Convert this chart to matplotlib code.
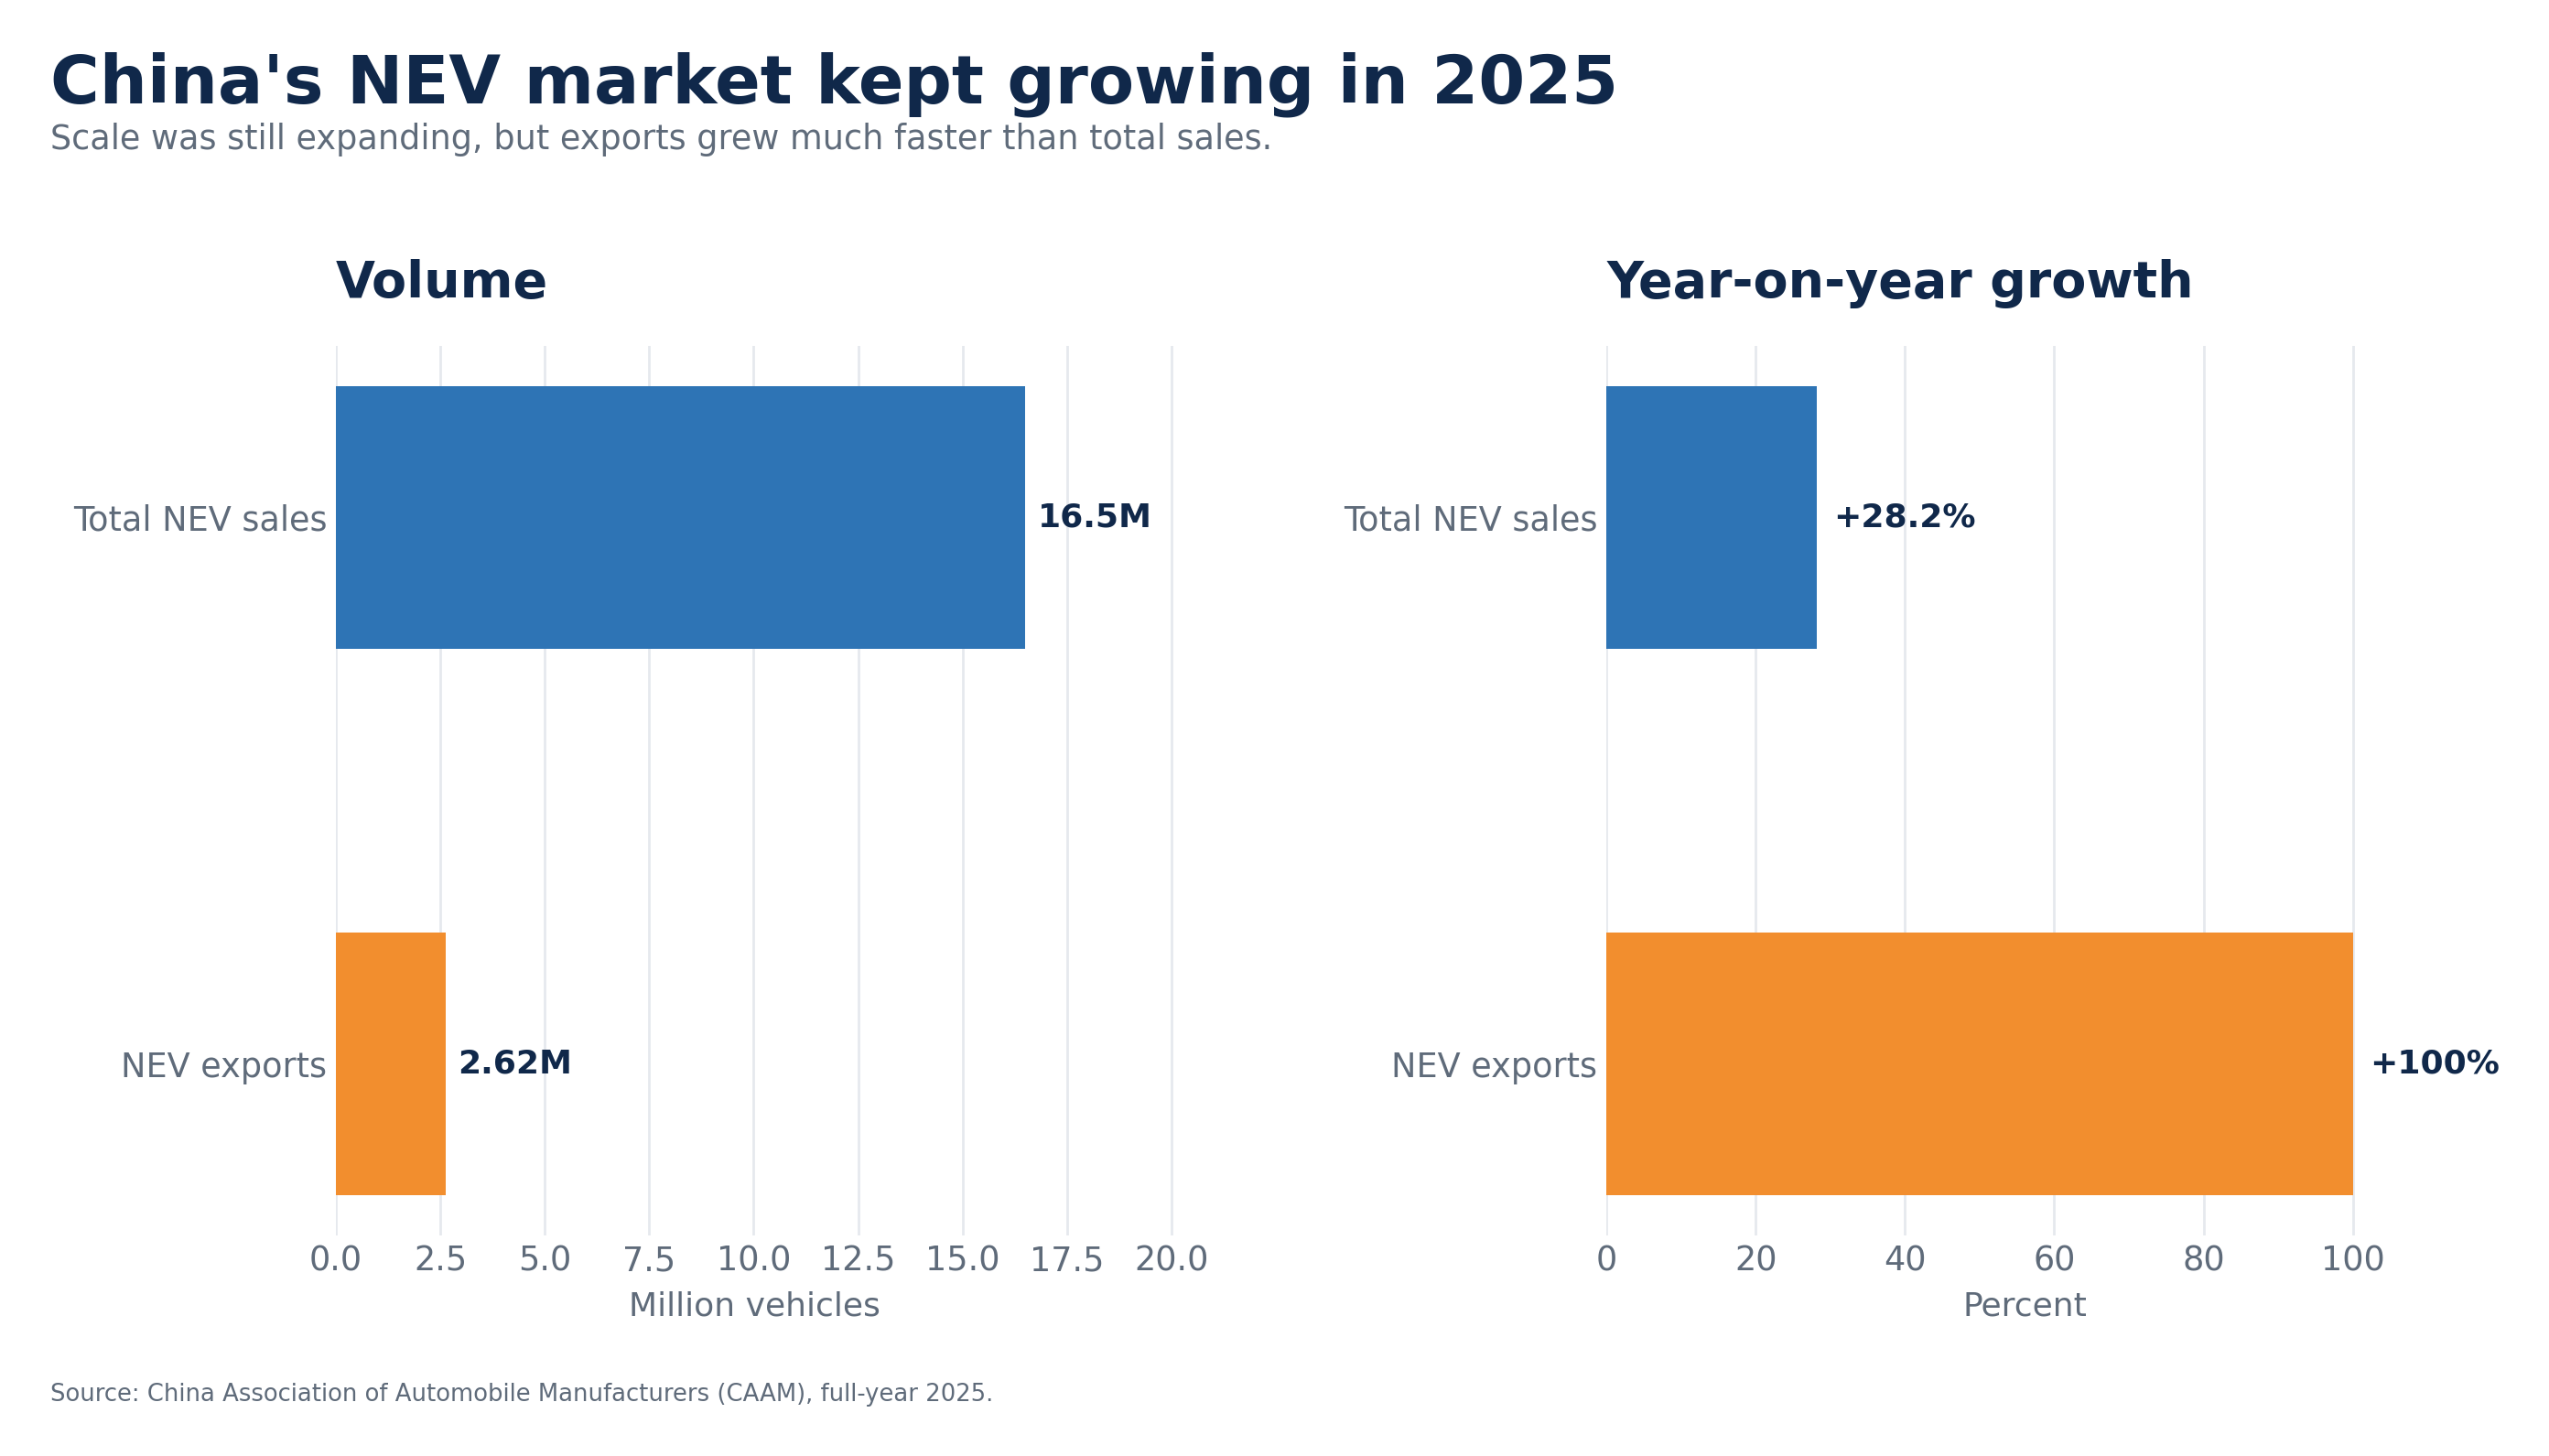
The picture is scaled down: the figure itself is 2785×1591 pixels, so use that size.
import numpy as np
import matplotlib
matplotlib.use("Agg")
import matplotlib.pyplot as plt

# data
categories = ["Total NEV sales", "NEV exports"]
volume_m = [16.5, 2.62]
volume_labels = ["16.5M", "2.62M"]
growth_pct = [28.2, 100.0]
growth_labels = ["+28.2%", "+100%"]

bar_colors = ["#2E74B5", "#F28E2E"]
navy = "#10284A"
gray = "#5F6B7A"
grid_col = "#E6E9EE"

plt.rcParams["font.family"] = ["DejaVu Sans"]

fig = plt.figure(figsize=(13.925, 7.955), dpi=200)
ax1 = fig.add_axes([0.1318, 0.1515, 0.3286, 0.6109])
ax2 = fig.add_axes([0.6302, 0.1515, 0.3286, 0.6109])


def style_axis(ax, title, xlabel):
    for s in ax.spines.values():
        s.set_visible(False)
    ax.grid(axis="x", color=grid_col, linewidth=1.0)
    ax.set_axisbelow(True)
    ax.tick_params(axis="both", length=0, labelsize=13.2, labelcolor=gray)
    ax.set_xlabel(xlabel, fontsize=13, color=gray, labelpad=5)
    ax.set_title(title, loc="left", fontsize=20, fontweight="bold", color=navy, pad=19)


y = np.arange(len(categories))

ax1.barh(y, volume_m, height=0.48, color=bar_colors)
ax1.set_yticks(y)
ax1.set_yticklabels(categories)
ax1.invert_yaxis()
ax1.set_xlim(0, 20.05)
ax1.set_xticks(np.arange(0, 20.1, 2.5))
for yi, v, lab in zip(y, volume_m, volume_labels):
    ax1.text(v + 0.3, yi, lab, va="center", ha="left", fontsize=13,
             fontweight="bold", color=navy)
style_axis(ax1, "Volume", "Million vehicles")

ax2.barh(y, growth_pct, height=0.48, color=bar_colors)
ax2.set_yticks(y)
ax2.set_yticklabels(categories)
ax2.invert_yaxis()
ax2.set_xlim(0, 112.2)
ax2.set_xticks(np.arange(0, 101, 20))
for yi, v, lab in zip(y, growth_pct, growth_labels):
    ax2.text(v + 2.2, yi, lab, va="center", ha="left", fontsize=13,
             fontweight="bold", color=navy)
style_axis(ax2, "Year-on-year growth", "Percent")

fig.text(0.0198, 0.9296, "China's NEV market kept growing in 2025", fontsize=26.4,
         fontweight="bold", color=navy, va="baseline")
fig.text(0.0198, 0.8975, "Scale was still expanding, but exports grew much faster than total sales.",
         fontsize=13.2, color=gray, va="baseline")
fig.text(0.0198, 0.038, "Source: China Association of Automobile Manufacturers (CAAM), full-year 2025.",
         fontsize=9.3, color=gray, va="baseline")

fig.savefig("out.png", dpi=200)
